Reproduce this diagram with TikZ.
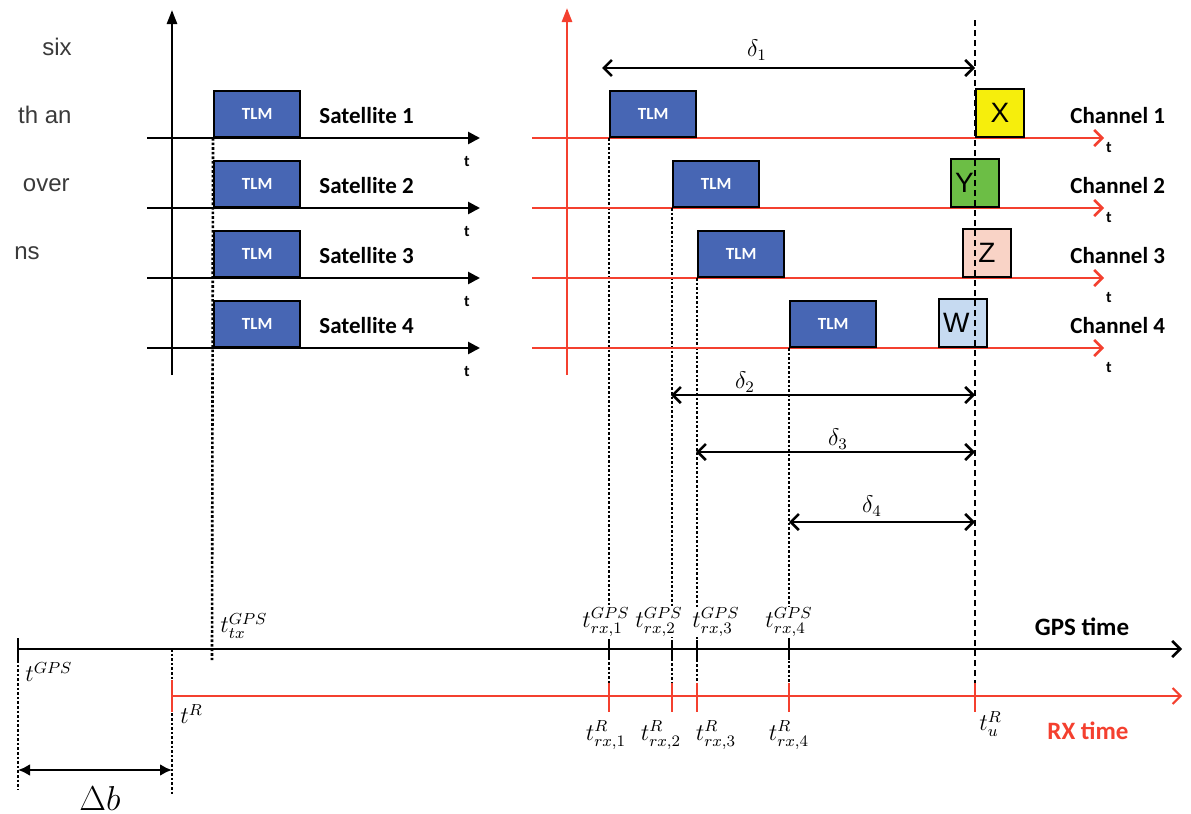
\documentclass[tikz,border=0pt]{standalone}
\usepackage{fontspec}
\setsansfont{Carlito}
\newfontfamily\pagefont{Liberation Sans}
\usetikzlibrary{arrows.meta,positioning}
\definecolor{tlmblue}{HTML}{4766B4}
\definecolor{rxred}{HTML}{F4402F}
\definecolor{xyellow}{HTML}{F6EE0C}
\definecolor{ygreen}{HTML}{6CBE45}
\definecolor{zpink}{HTML}{F9D3C6}
\definecolor{wblue}{HTML}{C6DAF1}
\definecolor{pagegray}{HTML}{3A3A3A}

\begin{document}
\begin{tikzpicture}[
  x=0.5pt, y=-0.5pt,
  font=\sffamily,
  tlm/.style={draw, line width=1.2pt, fill=tlmblue, text=white,
              font=\sffamily\bfseries\fontsize{8.5}{9}\selectfont,
              minimum width=43pt, minimum height=23pt, inner sep=0pt,
              anchor=south west},
  tag/.style={draw, line width=1pt, minimum size=24pt, inner sep=0pt,
              anchor=south west, font=\pagefont\fontsize{14}{14}\selectfont},
  lbl/.style={font=\sffamily\bfseries\fontsize{11.5}{13}\selectfont, inner sep=0pt},
  tlbl/.style={font=\sffamily\bfseries\fontsize{8}{9}\selectfont, inner sep=0pt},
  pagetxt/.style={font=\pagefont\fontsize{12}{12}\selectfont, text=pagegray,
                  anchor=east, inner sep=0pt},
  sataxis/.style={line width=1.3pt, -{Triangle[length=6pt,width=6pt]}},
  chaxis/.style={rxred, line width=1.3pt, -{Straight Barb[length=4pt,width=8pt]}},
  delta/.style={line width=1.3pt,
                {Straight Barb[length=4pt,width=8pt]}-{Straight Barb[length=4pt,width=8pt]}},
  vdot/.style={densely dotted, line width=1.3pt},
  tick/.style={line width=1.2pt},
  tm/.style={font=\fontsize{12}{12}\selectfont, inner sep=0.5pt}
]
\useasboundingbox (0,0) rectangle (1191,814);

% clipped page text
\node[pagetxt] (p1) at (72,47) {six};
\node[pagetxt] (p2) at (72,115) {th an};
\node[pagetxt] (p3) at (70,185) {over};
\node[pagetxt] (p4) at (40,253) {ns};

% satellite side
\coordinate (saxb) at (172,375);
\coordinate (saxt) at (172,10);
\draw[line width=1.3pt, -{Triangle[length=7pt,width=5pt]}] (saxb) -- (saxt);
\foreach \i/\y in {1/138,2/208,3/278,4/348}{
  \coordinate (sa\i) at (147,\y);
  \coordinate (sb\i) at (480,\y);
  \draw[sataxis] (sa\i) -- (sb\i);
  \node[tlm] (stlm\i) at (213,\y) {TLM};
  \node[lbl, anchor=west] (sat\i) at (319,\y-22) {Satellite \i};
  \node[tlbl] (st\i) at (467,\y+24) {t};
}
\coordinate (txb) at (212,660);
\draw[vdot] (stlm1.south west) -- (txb);

% channel side
\coordinate (caxb) at (567,375);
\coordinate (caxt) at (567,8);
\draw[rxred, line width=1.3pt, -{Triangle[length=7pt,width=5pt]}] (caxb) -- (caxt);
\foreach \i/\y/\xs/\tt in {1/138/609/10,2/208/672/10,3/278/697/20,4/348/789/20}{
  \coordinate (ca\i) at (532,\y);
  \coordinate (cb\i) at (1104,\y);
  \draw[chaxis] (ca\i) -- (cb\i);
  \node[tlm] (ctlm\i) at (\xs,\y) {TLM};
  \node[lbl, anchor=west] (ch\i) at (1070,\y-22) {Channel \i};
  \node[tlbl] (ct\i) at (1109,\y+\tt) {t};
  \coordinate (gt\i) at (\xs,640);
  \coordinate (gb\i) at (\xs,660);
  \coordinate (rt\i) at (\xs,683);
  \coordinate (rb\i) at (\xs,712);
  \draw[vdot] (ctlm\i.south west) -- (rt\i);
  \draw[tick] (gt\i) -- (gb\i);
  \draw[tick, rxred] (rt\i) -- (rb\i);
}

% received words
\node[tag, fill=xyellow] (xw) at (975,138) {X};
\node[tag, fill=ygreen] (yw) at (950,208) {\makebox[20pt][l]{Y}};
\node[tag, fill=zpink] (zw) at (962,278) {Z};
\node[tag, fill=wblue] (ww) at (938,348) {\makebox[20pt][l]{W}};

% user time
\coordinate (utop) at (975,20);
\coordinate (ubot) at (975,686);
\draw[line width=1.2pt, dash pattern=on 3pt off 2pt] (utop) -- (ubot);
\coordinate (ut) at (975,683);
\coordinate (ub) at (975,712);
\draw[tick, rxred] (ut) -- (ub);

% deltas
\coordinate (d1a) at (602,68);  \coordinate (d1b) at (975,68);
\coordinate (d2a) at (671,395); \coordinate (d2b) at (975,395);
\coordinate (d3a) at (696,452); \coordinate (d3b) at (975,452);
\coordinate (d4a) at (789,522); \coordinate (d4b) at (975,522);
\draw[delta] (d1a) -- (d1b);
\draw[delta] (d2a) -- (d2b);
\draw[delta] (d3a) -- (d3b);
\draw[delta] (d4a) -- (d4b);
\node[tm] (dl1) at (757,50) {$\delta_1$};
\node[tm] (dl2) at (745,382) {$\delta_2$};
\node[tm] (dl3) at (838,439) {$\delta_3$};
\node[tm] (dl4) at (872,506) {$\delta_4$};

% GPS and receiver time lines
\coordinate (gps0) at (18,649);
\coordinate (gps1) at (1182,649);
\draw[line width=1.3pt, -{Straight Barb[length=4pt,width=8pt]}] (gps0) -- (gps1);
\coordinate (rx0) at (172,696);
\coordinate (rx1) at (1182,696);
\draw[rxred, line width=1pt, -{Straight Barb[length=4pt,width=8pt]}] (rx0) -- (rx1);

\coordinate (o0t) at (18,638);
\coordinate (o0m) at (18,660);
\coordinate (o0b) at (18,790);
\draw[tick] (o0t) -- (o0m);
\draw[vdot] (o0m) -- (o0b);
\coordinate (o1t) at (172,649);
\coordinate (o1b) at (172,795);
\coordinate (o1r) at (172,680);
\coordinate (o1s) at (172,712);
\draw[vdot] (o1t) -- (o1b);
\draw[tick, rxred] (o1r) -- (o1s);

\coordinate (db0) at (18,770);
\coordinate (db1) at (172,770);
\draw[line width=1.3pt, {Latex[length=6pt,width=6pt]}-{Latex[length=6pt,width=6pt]}] (db0) -- (db1);
\node[font=\fontsize{16}{16}\selectfont, inner sep=0pt] (dbl) at (100,798) {$\Delta b$};

% time labels
\node[tm, anchor=west] (tg) at (24,672) {$t^{GPS}$};
\node[tm, anchor=west] (tr) at (179,714) {$t^{R}$};
\node[tm, anchor=west] (ttx) at (219,626) {$t^{GPS}_{tx}$};
\node[tm, fill=white] (g1) at (606,622) {$t^{GPS}_{rx,1}$};
\node[tm, fill=white] (g2) at (659,622) {$t^{GPS}_{rx,2}$};
\node[tm, fill=white] (g3) at (716,622) {$t^{GPS}_{rx,3}$};
\node[tm, fill=white] (g4) at (789,622) {$t^{GPS}_{rx,4}$};
\node[tm] (r1) at (606,735) {$t^{R}_{rx,1}$};
\node[tm] (r2) at (661,735) {$t^{R}_{rx,2}$};
\node[tm] (r3) at (716,735) {$t^{R}_{rx,3}$};
\node[tm] (r4) at (789,735) {$t^{R}_{rx,4}$};
\node[tm, anchor=west] (ru) at (978,724) {$t^{R}_{u}$};
\node[lbl, font=\sffamily\bfseries\fontsize{12.5}{13}\selectfont] (gpst) at (1082,627) {GPS time};
\node[lbl, text=rxred, font=\sffamily\bfseries\fontsize{12.5}{13}\selectfont] (rxt) at (1088,731) {RX time};
\end{tikzpicture}
\end{document}
